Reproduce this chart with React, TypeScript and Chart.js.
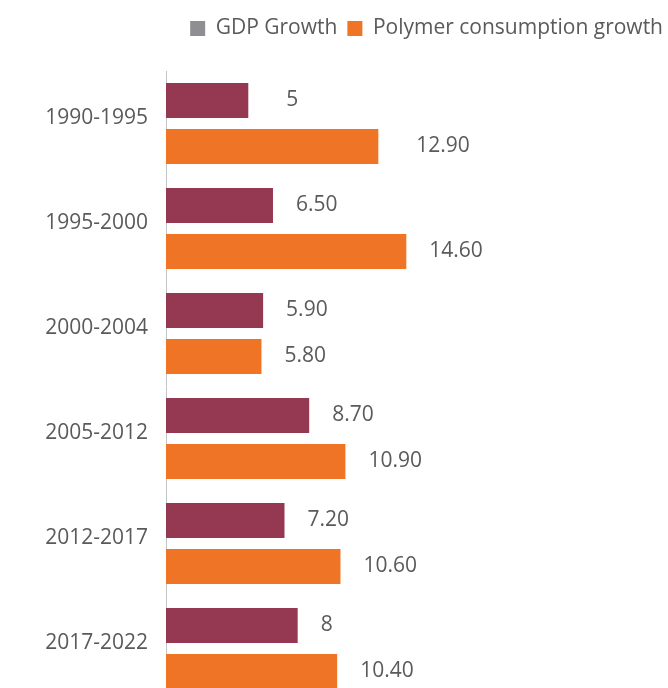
import React, { useEffect, useRef } from "react";
import { Chart, registerables } from "chart.js";

Chart.register(...registerables);

const categories = ["1990-1995", "1995-2000", "2000-2004", "2005-2012", "2012-2017", "2017-2022"];
const gdpGrowth = [5, 6.5, 5.9, 8.7, 7.2, 8];
const polymerGrowth = [12.9, 14.6, 5.8, 10.9, 10.6, 10.4];
const seriesNames = ["GDP Growth", "Polymer consumption growth"];

const MAROON = "#953952";
const ORANGE = "#f07426";
const LEGEND_GRAY = "#8e8e93";
const TEXT = "#5a5a5a";
const FONT = "'Open Sans', Lato, sans-serif";
const FONT_SIZE = 21;
const FONT_WEIGHT = 400;

const fmt = (v: number) => (Number.isInteger(v) ? String(v) : v.toFixed(2));

const valueLabels = {
  id: "valueLabels",
  afterDatasetsDraw(chart: any, _args: any, opts: any) {
    const ctx = chart.ctx;
    ctx.save();
    ctx.font = `${FONT_WEIGHT} ${FONT_SIZE}px ${FONT}`;
    ctx.fillStyle = TEXT;
    ctx.textAlign = "left";
    ctx.textBaseline = "middle";
    chart.data.datasets.forEach((ds: any, di: number) => {
      const meta = chart.getDatasetMeta(di);
      meta.data.forEach((el: any, i: number) => {
        const gap = (opts.gaps && opts.gaps[i]) || 23;
        ctx.fillText(fmt(ds.data[i]), el.x + gap, el.y);
      });
    });
    ctx.restore();
  },
};

const legendMargin = {
  id: "legendMargin",
  beforeInit(chart: any) {
    const legend = chart.legend;
    if (!legend) return;
    const orig = legend.fit;
    legend.fit = function () {
      orig.call(this);
      this.height = 63;
    };
  },
  afterLayout(chart: any) {
    if (chart.legend) {
      chart.legend.left += 5;
      chart.legend.right += 5;
    }
  },
};

export default function App() {
  const ref = useRef<HTMLCanvasElement | null>(null);
  useEffect(() => {
    if (!ref.current) return;
    const chart = new Chart(ref.current, {
      type: "bar",
      data: {
        labels: categories,
        datasets: [
          { label: seriesNames[0], data: gdpGrowth, backgroundColor: MAROON, categoryPercentage: 0.876, barPercentage: 0.761 },
          { label: seriesNames[1], data: polymerGrowth, backgroundColor: ORANGE, categoryPercentage: 0.876, barPercentage: 0.761 },
        ],
      },
      options: {
        indexAxis: "y",
        animation: false,
        responsive: false,
        maintainAspectRatio: false,
        devicePixelRatio: 1,
        layout: { padding: { top: 8, left: 0, right: 0, bottom: 0 } },
        scales: {
          x: { display: false, min: 0, max: 30.5 },
          y: {
            grid: { display: false, drawTicks: false },
            border: { display: true, color: "#c4c4c4", width: 1 },
            ticks: { color: TEXT, font: { family: FONT, size: FONT_SIZE, weight: FONT_WEIGHT }, padding: 18, labelOffset: -5 },
            afterFit(scale: any) {
              scale.width = 166;
              scale.paddingTop = 0;
              scale.paddingBottom = 0;
            },
          },
        },
        plugins: {
          legend: {
            position: "top",
            align: "end",
            labels: {
              boxWidth: 15,
              boxHeight: 15,
              padding: 10,
              color: TEXT,
              font: { family: FONT, size: FONT_SIZE, weight: FONT_WEIGHT },
              generateLabels: () =>
                seriesNames.map((name, i) => ({
                  text: name,
                  fillStyle: i === 0 ? LEGEND_GRAY : ORANGE,
                  strokeStyle: i === 0 ? LEGEND_GRAY : ORANGE,
                  lineWidth: 0,
                  hidden: false,
                  datasetIndex: i,
                  fontColor: TEXT,
                })),
            },
          },
          tooltip: { enabled: false },
          valueLabels: { gaps: [38, 23, 23, 23, 23, 23] },
        } as any,
      },
      plugins: [valueLabels, legendMargin],
    });
    return () => chart.destroy();
  }, []);

  return (
    <div style={{ position: "fixed", left: 0, top: 0, width: 668, height: 688, overflow: "hidden", background: "#fff" }}>
      <canvas ref={ref} width={668} height={701} style={{ display: "block", width: 668, height: 701 }} />
    </div>
  );
}
